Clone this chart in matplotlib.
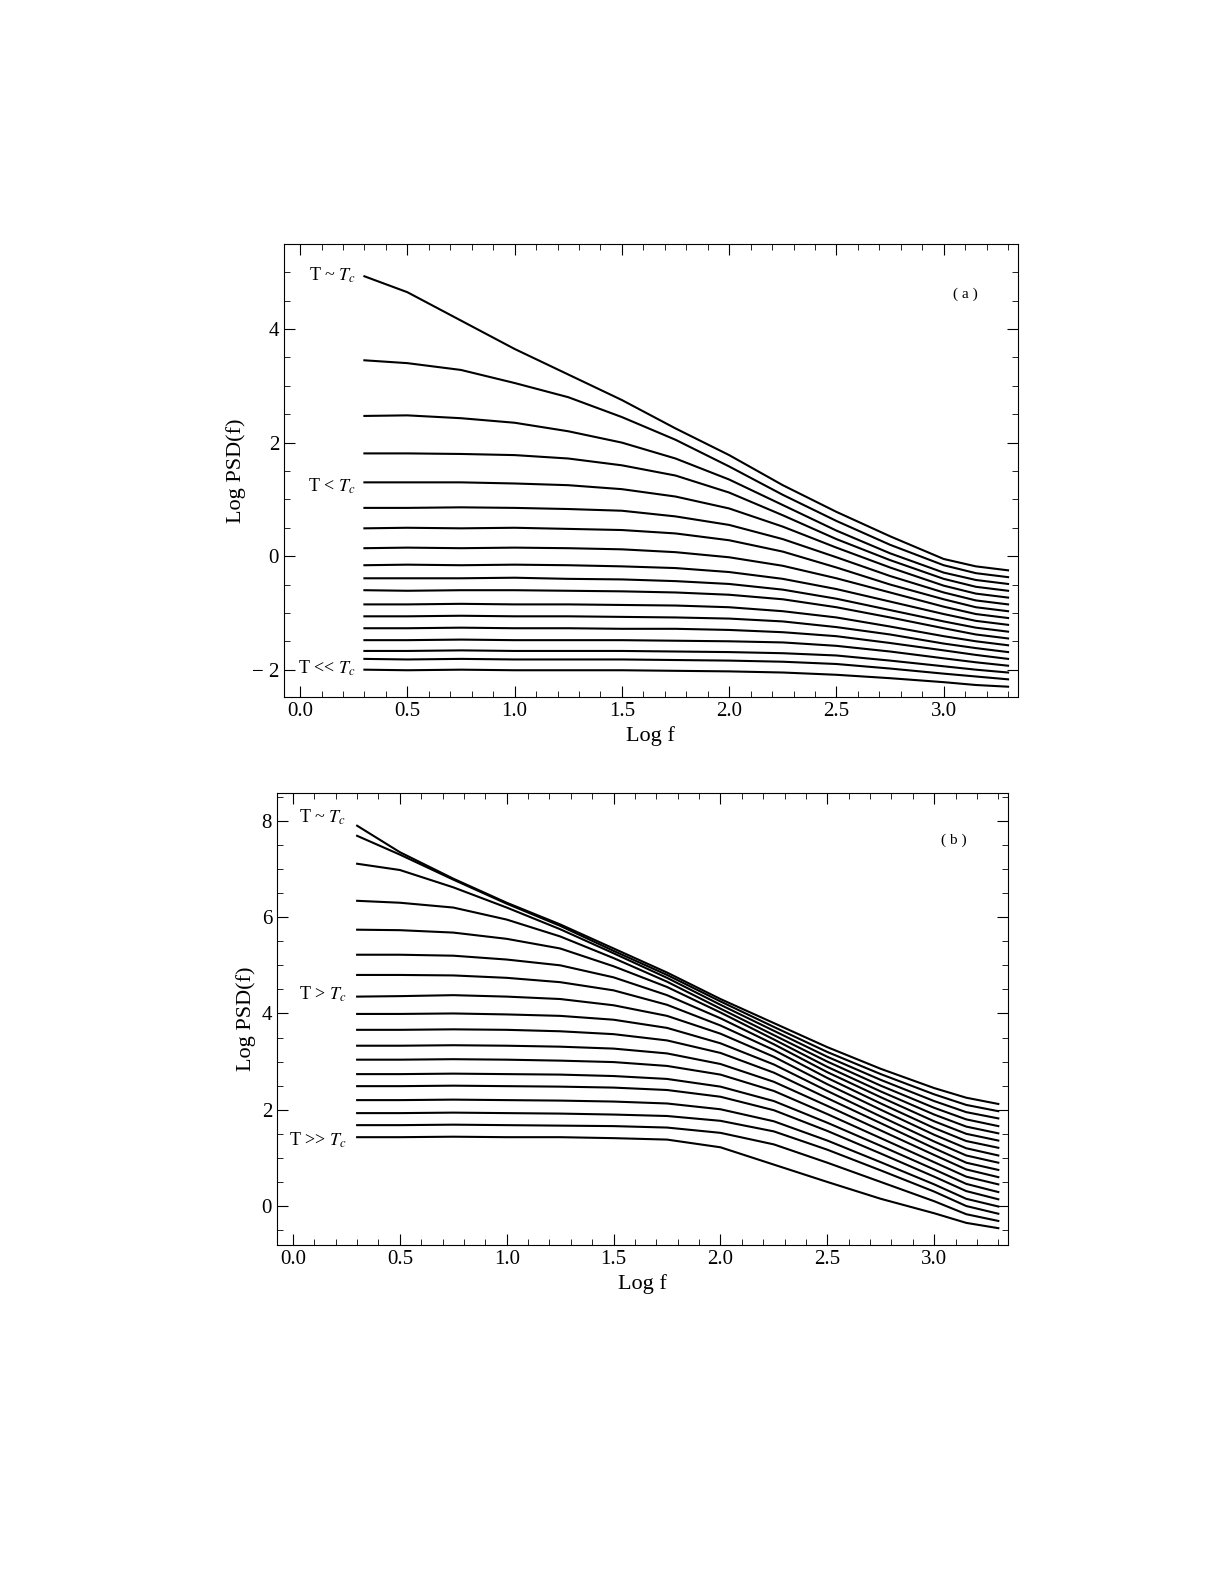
import numpy as np
import matplotlib
matplotlib.use('Agg')
import matplotlib.pyplot as plt
from matplotlib.ticker import MultipleLocator

plt.rcParams['font.family'] = ['Liberation Serif', 'DejaVu Serif']
plt.rcParams['mathtext.fontset'] = 'stix'

log_f = [0.3, 0.5, 0.75, 1.0, 1.25, 1.5, 1.75, 2.0, 2.25, 2.5, 2.75, 3.0, 3.15, 3.3]

# panel (a): T <= Tc, top curve = T ~ Tc
psd_a = [
    [4.93, 4.65, 4.15, 3.65, 3.2, 2.75, 2.25, 1.78, 1.25, 0.78, 0.35, -0.05, -0.18, -0.25],
    [3.45, 3.40, 3.28, 3.05, 2.8, 2.45, 2.05, 1.58, 1.08, 0.62, 0.2, -0.16, -0.3, -0.37],
    [2.47, 2.48, 2.43, 2.35, 2.2, 2.0, 1.72, 1.35, 0.9, 0.45, 0.05, -0.29, -0.42, -0.49],
    [1.81, 1.81, 1.80, 1.78, 1.72, 1.6, 1.42, 1.12, 0.72, 0.3, -0.07, -0.4, -0.54, -0.61],
    [1.30, 1.30, 1.30, 1.28, 1.25, 1.18, 1.05, 0.84, 0.52, 0.15, -0.2, -0.52, -0.66, -0.73],
    [0.85, 0.85, 0.86, 0.85, 0.83, 0.8, 0.7, 0.55, 0.3, -0.02, -0.35, -0.64, -0.78, -0.85],
    [0.49, 0.5, 0.49, 0.5, 0.48, 0.46, 0.4, 0.28, 0.08, -0.2, -0.5, -0.76, -0.9, -0.97],
    [0.14, 0.15, 0.14, 0.15, 0.14, 0.12, 0.07, -0.02, -0.17, -0.39, -0.64, -0.89, -1.02, -1.09],
    [-0.16, -0.15, -0.16, -0.15, -0.16, -0.18, -0.21, -0.28, -0.4, -0.58, -0.8, -1.02, -1.14, -1.21],
    [-0.39, -0.39, -0.39, -0.38, -0.4, -0.41, -0.44, -0.49, -0.59, -0.75, -0.95, -1.15, -1.26, -1.33],
    [-0.60, -0.61, -0.6, -0.6, -0.61, -0.62, -0.64, -0.68, -0.76, -0.9, -1.08, -1.27, -1.38, -1.45],
    [-0.85, -0.85, -0.84, -0.85, -0.85, -0.86, -0.87, -0.9, -0.97, -1.08, -1.24, -1.41, -1.5, -1.57],
    [-1.06, -1.06, -1.05, -1.06, -1.06, -1.07, -1.08, -1.1, -1.15, -1.25, -1.38, -1.54, -1.62, -1.69],
    [-1.27, -1.27, -1.26, -1.27, -1.27, -1.28, -1.28, -1.3, -1.34, -1.41, -1.53, -1.66, -1.74, -1.81],
    [-1.48, -1.48, -1.47, -1.48, -1.48, -1.48, -1.49, -1.5, -1.52, -1.58, -1.68, -1.8, -1.87, -1.93],
    [-1.67, -1.67, -1.66, -1.67, -1.67, -1.67, -1.68, -1.69, -1.71, -1.75, -1.84, -1.94, -2.0, -2.05],
    [-1.81, -1.82, -1.81, -1.82, -1.82, -1.82, -1.83, -1.84, -1.86, -1.9, -1.98, -2.07, -2.12, -2.17],
    [-2.0, -2.01, -2.0, -2.01, -2.01, -2.01, -2.02, -2.03, -2.05, -2.09, -2.15, -2.22, -2.27, -2.3],
]

# panel (b): T >= Tc
psd_b = [
    [7.9, 7.35, 6.8, 6.3, 5.85, 5.35, 4.85, 4.3, 3.8, 3.3, 2.85, 2.45, 2.25, 2.12],
    [7.69, 7.3, 6.78, 6.28, 5.82, 5.3, 4.8, 4.25, 3.72, 3.2, 2.74, 2.32, 2.1, 1.97],
    [7.11, 6.98, 6.62, 6.2, 5.75, 5.25, 4.74, 4.18, 3.64, 3.1, 2.62, 2.18, 1.95, 1.82],
    [6.34, 6.3, 6.2, 5.95, 5.6, 5.15, 4.66, 4.1, 3.55, 3.0, 2.5, 2.04, 1.8, 1.66],
    [5.74, 5.73, 5.68, 5.55, 5.35, 4.98, 4.55, 4.02, 3.46, 2.89, 2.38, 1.9, 1.65, 1.51],
    [5.22, 5.22, 5.2, 5.12, 5.0, 4.75, 4.38, 3.9, 3.36, 2.78, 2.26, 1.76, 1.5, 1.36],
    [4.8, 4.8, 4.79, 4.74, 4.65, 4.48, 4.18, 3.75, 3.24, 2.66, 2.13, 1.62, 1.35, 1.21],
    [4.35, 4.36, 4.38, 4.35, 4.3, 4.17, 3.95, 3.58, 3.1, 2.53, 2.0, 1.48, 1.2, 1.05],
    [3.99, 3.99, 4.0, 3.98, 3.95, 3.87, 3.7, 3.38, 2.94, 2.39, 1.86, 1.34, 1.05, 0.9],
    [3.66, 3.66, 3.67, 3.66, 3.63, 3.57, 3.44, 3.18, 2.77, 2.24, 1.72, 1.2, 0.9, 0.75],
    [3.33, 3.33, 3.34, 3.33, 3.31, 3.27, 3.17, 2.95, 2.58, 2.08, 1.57, 1.06, 0.76, 0.6],
    [3.04, 3.04, 3.05, 3.04, 3.02, 2.99, 2.91, 2.73, 2.39, 1.91, 1.41, 0.91, 0.61, 0.45],
    [2.74, 2.74, 2.75, 2.74, 2.73, 2.7, 2.64, 2.48, 2.18, 1.73, 1.25, 0.76, 0.46, 0.29],
    [2.49, 2.49, 2.5, 2.49, 2.48, 2.46, 2.41, 2.27, 1.99, 1.56, 1.09, 0.61, 0.31, 0.14],
    [2.2, 2.2, 2.21, 2.2, 2.19, 2.17, 2.13, 2.01, 1.76, 1.36, 0.91, 0.45, 0.15, -0.01],
    [1.93, 1.93, 1.94, 1.93, 1.92, 1.9, 1.87, 1.77, 1.55, 1.17, 0.74, 0.3, 0.0, -0.16],
    [1.68, 1.68, 1.69, 1.68, 1.67, 1.66, 1.63, 1.52, 1.28, 0.9, 0.5, 0.1, -0.17, -0.31],
    [1.43, 1.43, 1.44, 1.43, 1.43, 1.41, 1.38, 1.22, 0.86, 0.5, 0.15, -0.15, -0.35, -0.46],
]

labels_a = [(r'T ~ $T_c$', 4.95), (r'T < $T_c$', 1.23), (r'T << $T_c$', -1.97)]
labels_b = [(r'T ~ $T_c$', 8.08), (r'T > $T_c$', 4.39), (r'T >> $T_c$', 1.37)]

fig = plt.figure(figsize=(12.25, 15.85), dpi=100)
ax_a = fig.add_axes([0.2318, 0.5603, 0.599, 0.2858])
ax_b = fig.add_axes([0.2261, 0.2145, 0.5967, 0.2852])


def style(ax, ylim, ymajor):
    ax.set_xlim(-0.075, 3.345)
    ax.set_ylim(*ylim)
    ax.xaxis.set_major_locator(MultipleLocator(0.5))
    ax.xaxis.set_minor_locator(MultipleLocator(0.1))
    ax.yaxis.set_major_locator(MultipleLocator(ymajor))
    ax.yaxis.set_minor_locator(MultipleLocator(ymajor / 4))
    ax.xaxis.set_major_formatter(plt.FuncFormatter(lambda v, p: f'{v:.1f}'))
    ax.yaxis.set_major_formatter(plt.FuncFormatter(
        lambda v, p: f'\u2212 {abs(v):.0f}' if v < 0 else f'{v:.0f}'))
    ax.tick_params(which='both', direction='in', top=True, right=True, labelsize=15)
    ax.tick_params(which='major', length=8)
    ax.tick_params(which='minor', length=4)
    ax.set_xlabel('Log f', fontsize=16)
    ax.set_ylabel('Log PSD(f)', fontsize=16)


for curve in psd_a:
    ax_a.plot(log_f, curve, color='black', lw=1.5)
for curve in psd_b:
    ax_b.plot(log_f, curve, color='black', lw=1.5)

style(ax_a, (-2.48, 5.5), 2)
style(ax_b, (-0.81, 8.58), 2)

for txt, y in labels_a:
    ax_a.text(0.26, y, txt, ha='right', va='center', fontsize=13)
for txt, y in labels_b:
    ax_b.text(0.25, y, txt, ha='right', va='center', fontsize=13)
ax_a.text(3.1, 4.62, '( a )', ha='center', va='center', fontsize=11)
ax_b.text(3.09, 7.6, '( b )', ha='center', va='center', fontsize=11)

fig.savefig('out.png', dpi=100)
